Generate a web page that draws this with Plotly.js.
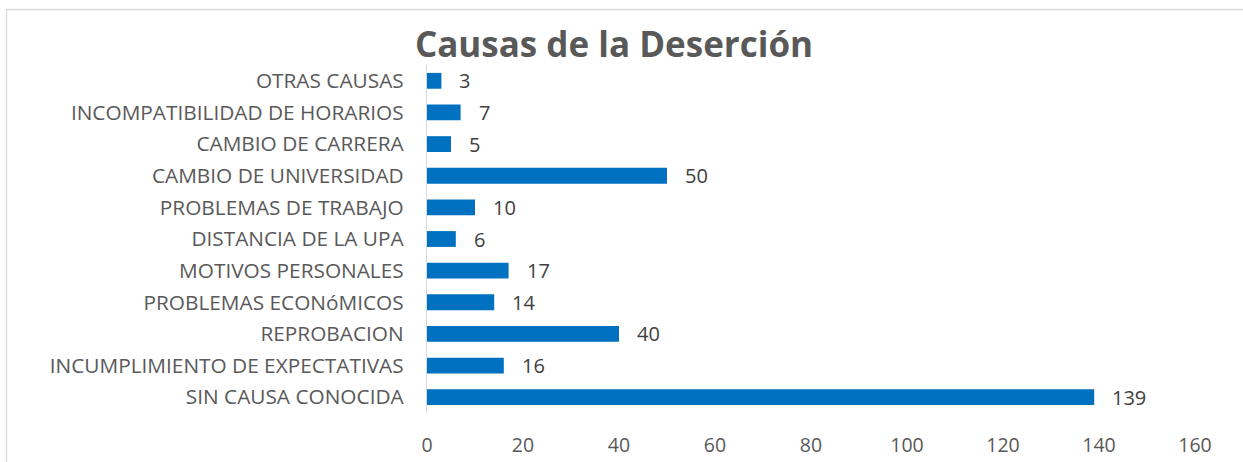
<!DOCTYPE html>
<html>
<head>
<meta charset="utf-8">
<script src="https://cdn.plot.ly/plotly-3.0.1.min.js"></script>
<style>html,body{margin:0;padding:0;background:#fff;}#chart{width:1243px;height:462px;}</style>
</head>
<body>
<div id="chart"></div>
<script>
const categories = [
  "SIN CAUSA CONOCIDA",
  "INCUMPLIMIENTO DE EXPECTATIVAS",
  "REPROBACION",
  "PROBLEMAS ECONóMICOS",
  "MOTIVOS PERSONALES",
  "DISTANCIA DE LA UPA",
  "PROBLEMAS DE TRABAJO",
  "CAMBIO DE UNIVERSIDAD",
  "CAMBIO DE CARRERA",
  "INCOMPATIBILIDAD DE HORARIOS",
  "OTRAS CAUSAS"
];
const values = [139, 16, 40, 14, 17, 6, 10, 50, 5, 7, 3];
const xTicks = [0, 20, 40, 60, 80, 100, 120, 140, 160];
const chartTitle = "Causas de la Deserción";

const FONT = "Open Sans, Liberation Sans, sans-serif";

const trace = {
  type: "bar",
  orientation: "h",
  y: categories,
  x: values,
  width: 0.5,
  marker: {color: "#0070C0"},
  hoverinfo: "x+y"
};

const annotations = categories.map((c, i) => ({
  x: values[i], y: c, xref: "x", yref: "y",
  text: String(values[i]), showarrow: false,
  xanchor: "left", xshift: 16,
  font: {family: FONT, size: 20, color: "#404040"}
}));

const W = 768, H = 348;
const shapes = [
  {type: "line", xref: "paper", yref: "paper", x0: (6 - 427) / W, x1: (1243 - 427) / W, y0: (413 - 9.5) / H, y1: (413 - 9.5) / H, line: {color: "#d9d9d9", width: 1.3}},
  {type: "line", xref: "paper", yref: "paper", x0: (6.5 - 427) / W, x1: (6.5 - 427) / W, y0: (413 - 9) / H, y1: (413 - 470) / H, line: {color: "#d9d9d9", width: 1.3}}
];

const layout = {
  width: 1243, height: 462,
  margin: {l: 427, r: 48, t: 65, b: 49},
  paper_bgcolor: "#ffffff",
  plot_bgcolor: "#ffffff",
  showlegend: false,
  title: {
    text: "<b>" + chartTitle + "</b>",
    font: {family: FONT, size: 35, color: "#595959"},
    x: 614 / 1243, xanchor: "center", xref: "container",
    y: 1 - 45 / 462, yanchor: "middle", yref: "container"
  },
  xaxis: {
    range: [0, 160],
    tickvals: xTicks,
    ticktext: xTicks.map(String),
    showgrid: false, zeroline: false, showline: false,
    ticks: "",
    ticklabelstandoff: 18,
    tickfont: {family: FONT, size: 19.5, color: "#595959"},
    fixedrange: true
  },
  yaxis: {
    type: "category",
    categoryorder: "array",
    categoryarray: categories,
    range: [-0.5, 10.5],
    showgrid: false, zeroline: false,
    showline: true, linecolor: "#d9d9d9", linewidth: 1.3,
    ticks: "",
    ticklabelstandoff: 18,
    tickfont: {family: FONT, size: 20.8, color: "#595959"},
    fixedrange: true
  },
  annotations: annotations,
  shapes: shapes
};

Plotly.newPlot("chart", [trace], layout, {displayModeBar: false, staticPlot: false});
</script>
</body>
</html>
